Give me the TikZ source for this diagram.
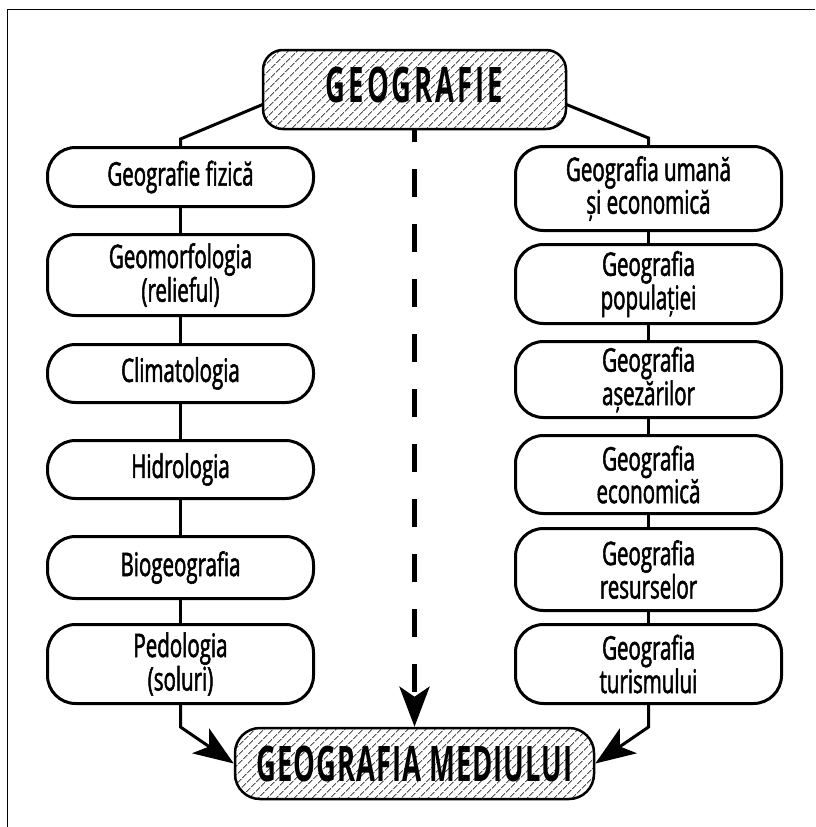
\documentclass[tikz,border=0pt]{standalone}
\usepackage{fontspec}
\setmainfont{Open Sans}[FakeStretch=0.63, FakeBold=1.6]
\newfontfamily\headfont{Open Sans}[FakeStretch=0.56, LetterSpace=6]
\usetikzlibrary{arrows.meta,patterns.meta,calc}
\begin{document}
\begin{tikzpicture}[x=1pt,y=-1pt,
  box/.style={draw, line width=3pt, rounded corners=28pt, minimum width=266pt,
    align=center, inner sep=0pt, font=\fontsize{32.5}{29}\selectfont},
  title/.style={draw, line width=2.5pt, inner sep=0pt,
    pattern={Lines[angle=45,distance=6.5pt,line width=0.75pt]}, pattern color=black,
    font=\headfont\bfseries\fontsize{49}{49}\selectfont},
  link/.style={line width=3pt},
  tip/.style={-{Stealth[length=40pt,width=30pt,inset=10pt]}},
  frame/.style={line width=1.3pt}]
\useasboundingbox (0,0) rectangle (815,827);
% outer frame (top and left edges)
\draw[frame] (815,9.3) -- (7.3,9.3) -- (7.3,827);

% headings
\node[title, minimum width=303pt, minimum height=79pt, rounded corners=20pt,
  text height=35pt, text depth=10pt] (top) at (414.5,89.5) {GEOGRAFIE};
\node[title, minimum width=359pt, minimum height=71pt, rounded corners=25pt,
  font=\headfont\bfseries\fontsize{49}{49}\selectfont\addfontfeature{LetterSpace=2}]
  (bot) at (414.5,763.5) {GEOGRAFIA MEDIULUI};

% physical geography column
\node[box, minimum height=59pt] (l1) at (180.5,177) {Geografie fizică};
\node[box, minimum height=81pt] (l2) at (180.5,275) {Geomorfologia\\(relieful)};
\node[box, minimum height=58pt] (l3) at (180.5,373.5) {Climatologia};
\node[box, minimum height=58pt] (l4) at (180.5,469.5) {Hidrologia};
\node[box, minimum height=62pt] (l5) at (180.5,567.5) {Biogeografia};
\node[box, minimum height=79pt] (l6) at (180.5,664) {Pedologia\\(soluri)};

% human and economic geography column
\node[box, minimum height=84pt] (r1) at (648.5,188.5) {Geografia umană\\și economică};
\node[box, minimum height=79pt] (r2) at (648.5,284) {Geografia\\populației};
\node[box, minimum height=76pt] (r3) at (648.5,379.5) {Geografia\\așezărilor};
\node[box, minimum height=78pt] (r4) at (648.5,474.5) {Geografia\\economică};
\node[box, minimum height=82pt] (r5) at (648.5,569.5) {Geografia\\resurselor};
\node[box, minimum height=79pt] (r6) at (648.5,664) {Geografia\\turismului};

% branches from the main heading
\draw[link] ([yshift=-15pt]top.west) -- ($(l1.north)+(0,-7)$) -- (l1.north);
\draw[link] ([yshift=-15pt]top.east) -- ($(r1.north)+(0,-7)$) -- (r1.north);

% chains within the columns
\foreach \a/\b in {l1/l2,l2/l3,l3/l4,l4/l5,l5/l6,r1/r2,r2/r3,r3/r4,r4/r5,r5/r6}
  \draw[link] (\a.south) -- (\b.north);

% convergence on environmental geography
\draw[link,tip] (l6.south) -- ++(0,22) -- (bot.west);
\draw[link,tip] (r6.south) -- ++(0,22) -- (bot.east);
\draw[line width=5pt, dash pattern=on 28pt off 27pt, dash phase=15pt, tip]
  (top.south) -- (bot.north);
\end{tikzpicture}
\end{document}
